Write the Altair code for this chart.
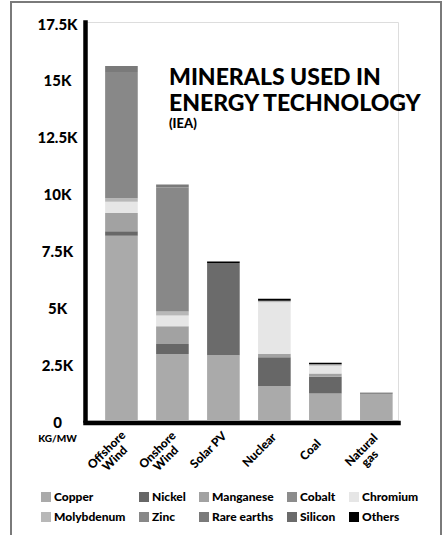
import altair as alt
import pandas as pd

# Material intensity of power technologies, kg per MW of capacity
technologies = ["Offshore Wind", "Onshore Wind", "Solar PV", "Nuclear", "Coal", "Natural gas"]
minerals = ["Copper", "Nickel", "Manganese", "Cobalt", "Chromium",
            "Molybdenum", "Zinc", "Rare earths", "Silicon", "Others"]
shades = ["#aaaaaa", "#676767", "#a2a2a2", "#8c8c8c", "#e6e6e6",
          "#b8b8b8", "#888888", "#7a7a7a", "#6b6b6b", "#000000"]

copper = [8100, 2900, 2850, 1500, 1170, 1150]
nickel = [200, 440, 0, 1260, 730, 50]
manganese = [800, 780, 0, 150, 150, 0]
cobalt = [0, 0, 0, 0, 0, 0]
chromium = [500, 480, 0, 2270, 330, 0]
molybdenum = [150, 170, 0, 60, 70, 20]
zinc = [5550, 5450, 0, 0, 0, 0]
rare_earths = [260, 130, 0, 0, 0, 0]
silicon = [0, 0, 4050, 0, 0, 0]
others = [0, 0, 70, 90, 70, 0]

y_ticks = [0, 2500, 5000, 7500, 10000, 12500, 15000, 17500]

series = [copper, nickel, manganese, cobalt, chromium,
          molybdenum, zinc, rare_earths, silicon, others]
rows = []
for m_idx, (mineral, vals) in enumerate(zip(minerals, series)):
    for tech, v in zip(technologies, vals):
        rows.append({"technology": tech, "mineral": mineral, "rank": m_idx, "kg": v})
df = pd.DataFrame(rows)

FONT = "Lato"

bars = alt.Chart(df).mark_bar(opacity=1).encode(
    x=alt.X(
        "technology:N",
        sort=technologies,
        scale=alt.Scale(paddingInner=0.36, paddingOuter=0.25, align=0.79),
        axis=alt.Axis(
            title=None,
            ticks=False,
            domainColor="black",
            domainWidth=4.5,
            domainCap="square",
            offset=2.5,
            labelAngle=-45,
            labelAlign="center",
            labelBaseline="middle",
            labelOffset=-15,
            labelPadding=27,
            labelFont=FONT,
            labelFontWeight=900,
            labelFontSize=12,
            labelLineHeight=12,
            labelColor="black",
            labelExpr="datum.label == 'Solar PV' ? datum.label : split(datum.label, ' ')",
        ),
    ),
    y=alt.Y(
        "kg:Q",
        stack="zero",
        scale=alt.Scale(domain=[0, 17500], nice=False),
        axis=alt.Axis(
            values=y_ticks,
            grid=False,
            ticks=False,
            domainColor="black",
            domainWidth=4.5,
            domainCap="square",
            labelAlign="center",
            labelBaseline="middle",
            labelPadding=28,
            labelOffset=2,
            labelFont=FONT,
            labelFontWeight=900,
            labelFontSize=15,
            labelColor="black",
            labelExpr="datum.value == 0 ? '0' : format(datum.value / 1000, '') + 'K'",
            title="KG/MW",
            titleAngle=0,
            titleX=-28,
            titleY=416,
            titleAlign="center",
            titleBaseline="middle",
            titleFont=FONT,
            titleFontWeight=900,
            titleFontSize=10,
            titleColor="black",
        ),
    ),
    color=alt.Color(
        "mineral:N",
        scale=alt.Scale(domain=minerals, range=shades),
        legend=alt.Legend(
            title=None,
            orient="none",
            legendX=-45,
            legendY=469,
            direction="horizontal",
            columns=5,
            symbolType="square",
            symbolSize=100,
            symbolStrokeWidth=0,
            symbolOpacity=1,
            columnPadding=12,
            rowPadding=8,
            labelOffset=2,
            padding=0,
            labelFont=FONT,
            labelFontWeight=900,
            labelFontSize=12,
            labelColor="black",
        ),
    ),
    order=alt.Order("rank:Q", sort="ascending"),
)

# Thin grey frame around the whole graphic
frame = alt.Chart(pd.DataFrame({"f": [0]})).mark_rect(
    fill=None, stroke="#7a7a7a", strokeWidth=2, clip=False
).encode(
    x=alt.value(-74), x2=alt.value(356),
    y=alt.value(-20), y2=alt.value(530),
)

chart = alt.layer(bars, frame).properties(
    width=313,
    height=398,
    autosize=alt.AutoSizeParams(type="none"),
    padding={"left": 85, "top": 22, "right": 45, "bottom": 115},
    title=alt.TitleParams(
        text=["MINERALS USED IN", "ENERGY TECHNOLOGY"],
        subtitle="(IEA)",
        anchor="start",
        frame="group",
        orient="top",
        dx=84,
        dy=134,
        font=FONT,
        fontWeight=900,
        fontSize=23,
        lineHeight=26,
        color="black",
        subtitleFont=FONT,
        subtitleFontWeight=900,
        subtitleFontSize=13,
        subtitleColor="black",
        subtitlePadding=2,
    ),
).configure_view(stroke=None).configure(background="white")

chart.save("out.html", embed_options={"renderer": "svg", "actions": False})
